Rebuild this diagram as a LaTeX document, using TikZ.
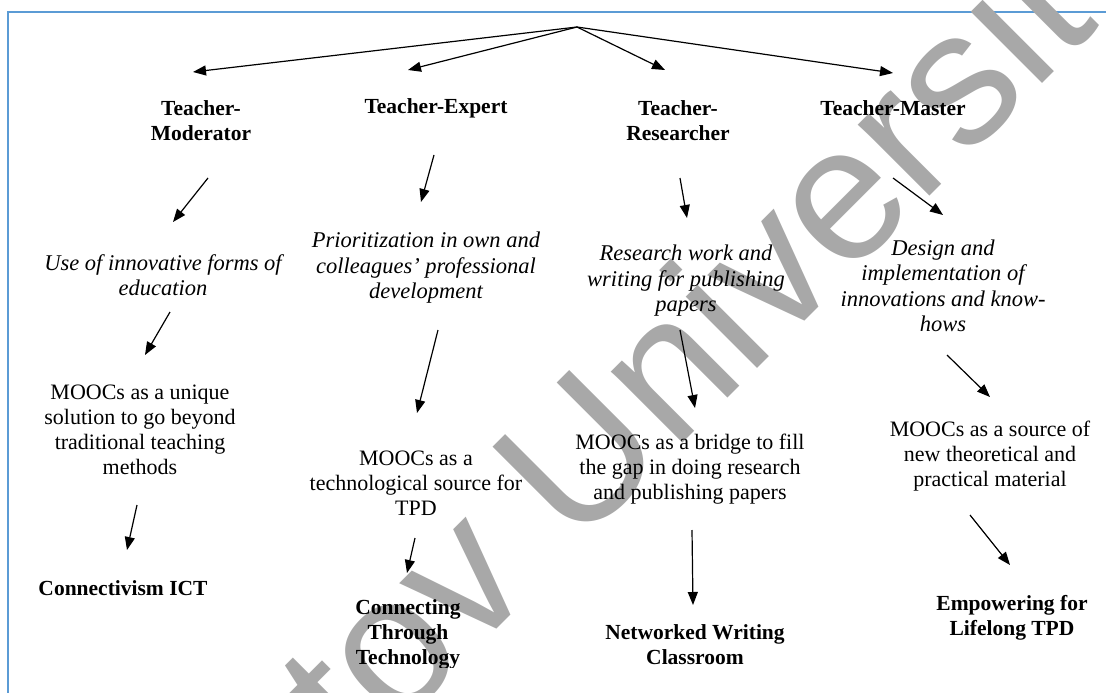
\documentclass[tikz,border=0pt]{standalone}
\usepackage{fontspec}
\setmainfont{Liberation Serif}
\newfontfamily\wmfont{Liberation Sans}
\usetikzlibrary{arrows.meta}
\definecolor{framebl}{RGB}{91,155,213}
\definecolor{wmgray}{RGB}{168,168,168}
\tikzset{
  ttl/.style={font=\fontsize{21.5}{25}\selectfont\bfseries, align=center, inner sep=0pt},
  itl/.style={font=\fontsize{22.5}{25.5}\selectfont\itshape, align=center, inner sep=0pt},
  mooc/.style={font=\fontsize{22}{25}\selectfont, align=center, inner sep=0pt},
  arr/.style={line width=1.2pt, -{Triangle[length=13pt,width=10pt]}},
}
\begin{document}
\begin{tikzpicture}[x=1pt,y=-1pt]
\useasboundingbox (0,0) rectangle (1106,693);
\clip (0,0) rectangle (1106,693);
% frame
\draw[framebl, line width=2.5pt] (8,693) -- (8,12) -- (1106,12);
% watermark
\node[wmgray, font=\fontsize{191}{191}\selectfont\wmfont, rotate=45, anchor=base west, inner sep=0pt] (wm) at (358,768) {tov University};
% titles
\node[ttl] (t1) at (201,121) {Teacher-\\Moderator};
\node[ttl] (t2) at (436,108) {Teacher-Expert};
\node[ttl] (t3) at (678,121) {Teacher-\\Researcher};
\node[ttl] (t4) at (893,108) {Teacher-Master};
% activities
\node[itl] (i1) at (163,275) {Use of innovative forms of\\education};
\node[itl] (i2) at (426,268) {Prioritization in own and\\colleagues' professional\\development};
\node[itl] (i3) at (686,281) {Research work and\\writing for publishing\\papers};
\node[itl] (i4) at (943,286) {Design and\\implementation of\\innovations and know-\\hows};
% MOOCs roles
\node[mooc] (m1) at (140,430) {MOOCs as a unique\\solution to go beyond\\traditional teaching\\methods};
\node[mooc] (m2) at (416,483) {MOOCs as a\\technological source for\\TPD};
\node[mooc] (m3) at (690,469) {MOOCs as a bridge to fill\\the gap in doing research\\and publishing papers};
\node[mooc] (m4) at (990,456) {MOOCs as a source of\\new theoretical and\\practical material};
% outcomes
\node[ttl] (b1) at (123,588) {Connectivism ICT};
\begin{scope}
  \clip (300,580) rectangle (520,667);
  \node[ttl] (b2) at (408,634) {Connecting\\Through\\Technology};
\end{scope}
\node[ttl] (b3) at (695,645) {Networked Writing\\Classroom};
\node[ttl] (b4) at (1012,618) {Empowering for\\Lifelong TPD};
% arrow end points
\coordinate (root) at (577,27);
\coordinate (r1) at (193,72);
\coordinate (r2) at (408,70);
\coordinate (r3) at (665,70);
\coordinate (r4) at (893,73);
\coordinate (a1s) at (208,178); \coordinate (a1e) at (173,222);
\coordinate (a2s) at (434,155); \coordinate (a2e) at (421,202);
\coordinate (a3s) at (680,178); \coordinate (a3e) at (687,218);
\coordinate (a4s) at (893,178); \coordinate (a4e) at (943,215);
\coordinate (b1s) at (170,312); \coordinate (b1e) at (145,355);
\coordinate (b2s) at (438,330); \coordinate (b2e) at (417,413);
\coordinate (b3s) at (680,330); \coordinate (b3e) at (695,408);
\coordinate (b4s) at (947,355); \coordinate (b4e) at (990,397);
\coordinate (c1s) at (137,505); \coordinate (c1e) at (127,550);
\coordinate (c2s) at (415,538); \coordinate (c2e) at (407,573);
\coordinate (c3s) at (692,530); \coordinate (c3e) at (693,605);
\coordinate (c4s) at (970,515); \coordinate (c4e) at (1010,565);
% connectors
\foreach \t in {r1,r2,r3,r4} \draw[arr] (root) -- (\t);
\foreach \p in {a1,a2,a3,a4,b1,b2,b3,b4,c1,c2,c3,c4} \draw[arr] (\p s) -- (\p e);
\end{tikzpicture}
\end{document}
